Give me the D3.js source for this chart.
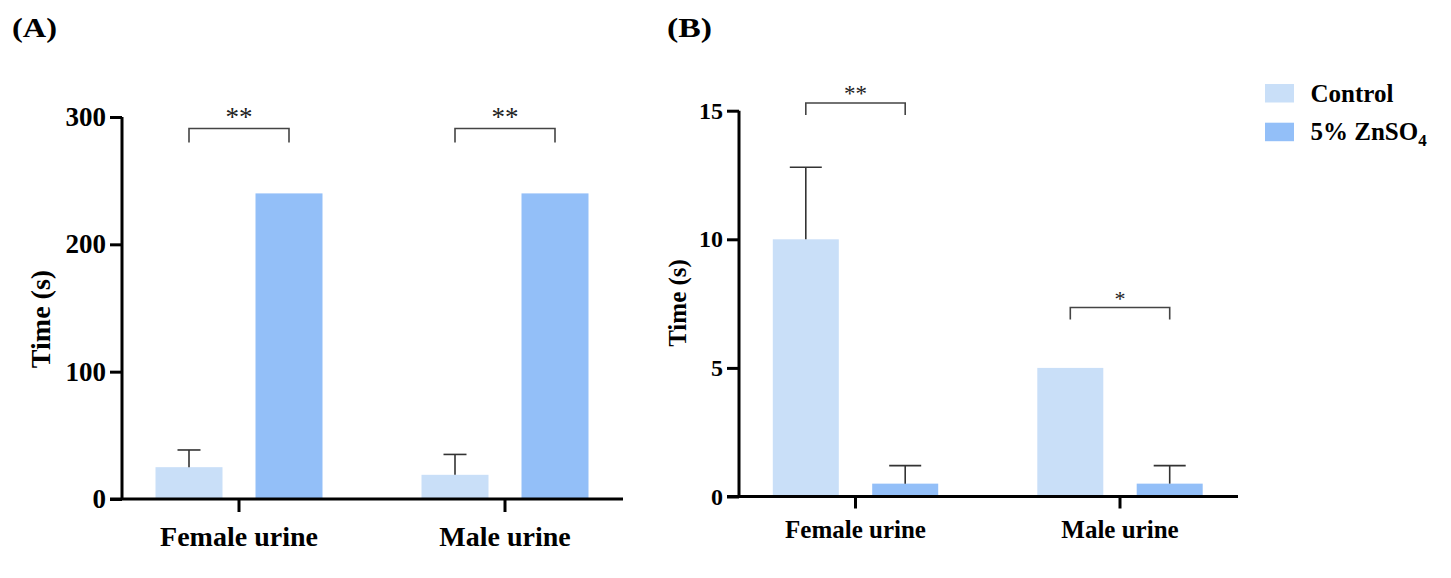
<!DOCTYPE html>
<html>
<head>
<meta charset="utf-8">
<script src="https://cdn.jsdelivr.net/npm/d3@7"></script>
<style>
  html, body { margin: 0; padding: 0; background: #fff; }
  svg { display: block; }
  text { font-family: "Liberation Serif", "Times New Roman", serif; }
</style>
</head>
<body>
<svg id="chart" width="1451" height="578"></svg>
<script>
// ---------------- data ----------------
const categories = ["Female urine", "Male urine"];
const seriesNames = ["Control", "5% ZnSO4"];
const seriesColors = ["#c9dff8", "#93bff8"];

const panelA_control = [25, 19];
const panelA_controlErr = [13.5, 16];
const panelA_zinc = [240, 240];
const panelA_zincErr = [0, 0];
const panelA_ticks = [0, 100, 200, 300];
const panelA_signif = ["**", "**"];
const panelA_bracketLevel = [291, 291];

const panelB_control = [10, 5];
const panelB_controlErr = [2.8, 0];
const panelB_zinc = [0.5, 0.5];
const panelB_zincErr = [0.7, 0.7];
const panelB_ticks = [0, 5, 10, 15];
const panelB_signif = ["**", "*"];
const panelB_bracketLevel = [15.3, 7.35];

// ---------------- drawing ----------------
const svg = d3.select("#chart");

function drawPanel(p) {
  const g = svg.append("g");
  const y = d3.scaleLinear().domain([0, p.yMax]).range([p.y0, p.yTop]);
  const x0 = d3.scaleBand().domain(categories).range(p.bandRange).padding(0);
  const x1 = d3.scalePoint().domain(seriesNames).range([-p.offset, p.offset]);

  const rows = categories.map((c, i) => ({
    cat: c,
    vals: [
      { s: seriesNames[0], v: p.control[i], e: p.controlErr[i] },
      { s: seriesNames[1], v: p.zinc[i], e: p.zincErr[i] }
    ],
    sig: p.signif[i],
    level: p.bracket[i]
  }));
  const cx = c => x0(c) + x0.bandwidth() / 2;

  // bars
  rows.forEach(r => {
    r.vals.forEach((d, j) => {
      const xc = cx(r.cat) + x1(d.s);
      g.append("rect")
        .attr("x", xc - p.barW / 2)
        .attr("y", y(d.v))
        .attr("width", p.barW)
        .attr("height", y(0) - y(d.v))
        .attr("fill", seriesColors[j]);
      if (d.e > 0) {
        g.append("line")
          .attr("x1", xc).attr("x2", xc)
          .attr("y1", y(d.v)).attr("y2", y(d.v + d.e))
          .attr("stroke", "#333").attr("stroke-width", 1.6);
        g.append("line")
          .attr("x1", xc - p.capW / 2).attr("x2", xc + p.capW / 2)
          .attr("y1", y(d.v + d.e)).attr("y2", y(d.v + d.e))
          .attr("stroke", "#333").attr("stroke-width", 1.6);
      }
    });
    // significance bracket
    const xa = cx(r.cat) + x1(seriesNames[0]);
    const xb = cx(r.cat) + x1(seriesNames[1]);
    const yl = y(r.level);
    g.append("path")
      .attr("d", `M${xa},${yl + p.legLen}V${yl}H${xb}V${yl + p.legLen}`)
      .attr("fill", "none").attr("stroke", "#444").attr("stroke-width", 1.6);
    g.append("text")
      .attr("x", (xa + xb) / 2)
      .attr("y", yl - p.starGap)
      .attr("text-anchor", "middle")
      .attr("font-size", r.sig.length > 1 ? p.starSize : p.starSize1)
      .attr("fill", "#222")
      .text(r.sig);
  });

  // y axis
  const yAxis = d3.axisLeft(y).tickValues(p.ticks).tickSize(p.tickLen).tickPadding(4).tickFormat(d3.format("d"));
  const ya = g.append("g").attr("transform", `translate(${p.xAxisStart},0)`).call(yAxis);
  ya.select(".domain").attr("stroke", "#000").attr("stroke-width", 3)
    .attr("d", `M0,${y(p.yMax)}V${y(0)}`);
  ya.selectAll(".tick line").attr("stroke", "#000").attr("stroke-width", 3);
  ya.selectAll(".tick text")
    .attr("font-family", "Liberation Serif, serif")
    .attr("font-weight", "bold").attr("font-size", p.tickFont).attr("fill", "#000");

  // x axis
  const xAxis = d3.axisBottom(x0).tickSize(p.xTickLen).tickPadding(p.xLabelPad);
  const xa = g.append("g").attr("transform", `translate(0,${y(0)})`).call(xAxis);
  xa.select(".domain").attr("stroke", "#000").attr("stroke-width", 3)
    .attr("d", `M${p.xAxisStart - p.tickLen},0H${p.xAxisEnd}`);
  xa.selectAll(".tick line").attr("stroke", "#000").attr("stroke-width", 3);
  xa.selectAll(".tick text")
    .attr("font-family", "Liberation Serif, serif")
    .attr("font-weight", "bold").attr("font-size", p.catFont).attr("fill", "#000");

  // y title
  g.append("text")
    .attr("transform", `translate(${p.titleX},${p.titleY}) rotate(-90)`)
    .attr("text-anchor", "middle")
    .attr("dominant-baseline", "central")
    .attr("font-weight", "bold").attr("font-size", p.titleFont)
    .text("Time (s)");

  // panel label
  g.append("text")
    .attr("x", p.labelX).attr("y", 37)
    .attr("font-weight", "bold").attr("font-size", 27)
    .attr("textLength", 45).attr("lengthAdjust", "spacingAndGlyphs")
    .text(p.label);
}

drawPanel({
  label: "(A)", labelX: 12,
  control: panelA_control, controlErr: panelA_controlErr,
  zinc: panelA_zinc, zincErr: panelA_zincErr,
  ticks: panelA_ticks, signif: panelA_signif, bracket: panelA_bracketLevel,
  yMax: 300, y0: 499, yTop: 117,
  bandRange: [106, 638], offset: 50, barW: 67, capW: 23,
  xAxisStart: 122, xAxisEnd: 623, tickLen: 12, xTickLen: 13, xLabelPad: 14,
  tickFont: 27, catFont: 28, titleFont: 28, titleX: 40, titleY: 319,
  legLen: 14, starGap: 2, starSize: 27, starSize1: 24
});

drawPanel({
  label: "(B)", labelX: 667,
  control: panelB_control, controlErr: panelB_controlErr,
  zinc: panelB_zinc, zincErr: panelB_zincErr,
  ticks: panelB_ticks, signif: panelB_signif, bracket: panelB_bracketLevel,
  yMax: 15, y0: 496.5, yTop: 110.7,
  bandRange: [723.25, 1252.25], offset: 49.7, barW: 66, capW: 32,
  xAxisStart: 739, xAxisEnd: 1238, tickLen: 12, xTickLen: 12, xLabelPad: 12,
  tickFont: 24, catFont: 25, titleFont: 25, titleX: 677, titleY: 303,
  legLen: 12, starGap: 1.5, starSize: 23, starSize1: 22
});

// legend
const legend = svg.append("g");
seriesNames.forEach((s, i) => {
  const yy = 84 + i * 38.7;
  legend.append("rect")
    .attr("x", 1265).attr("y", yy).attr("width", 29).attr("height", 18.5)
    .attr("fill", seriesColors[i]);
  const t = legend.append("text")
    .attr("x", 1310.5).attr("y", yy + 17.5)
    .attr("font-weight", "bold").attr("font-size", 25).attr("fill", "#000");
  if (s === "5% ZnSO4") {
    t.append("tspan").text("5% ZnSO");
    t.append("tspan").attr("font-size", 17).attr("dy", 6).text("4");
  } else {
    t.text(s);
  }
});
</script>
</body>
</html>
